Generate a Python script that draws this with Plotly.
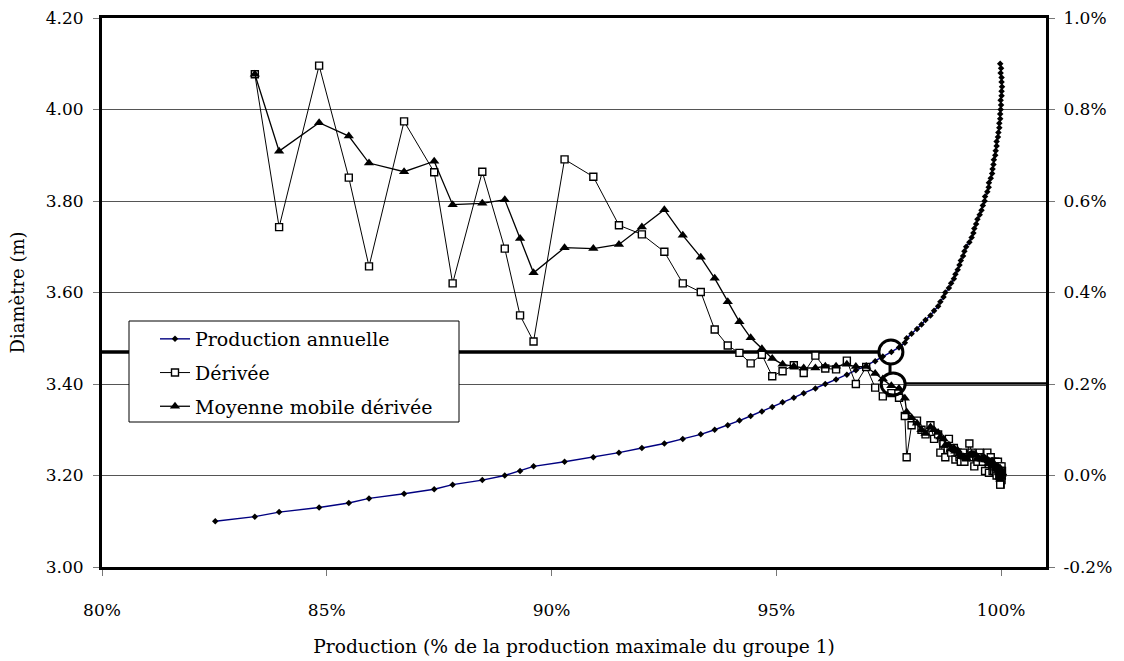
import plotly.graph_objects as go

# ---------------- data ----------------
diametre = [3.10, 3.11, 3.12, 3.13, 3.14, 3.15, 3.16, 3.17, 3.18, 3.19,
            3.20, 3.21, 3.22, 3.23, 3.24, 3.25, 3.26, 3.27, 3.28, 3.29,
            3.30, 3.31, 3.32, 3.33, 3.34, 3.35, 3.36, 3.37, 3.38, 3.39,
            3.40, 3.41, 3.42, 3.43, 3.44, 3.45, 3.46, 3.47, 3.48, 3.49,
            3.50, 3.51, 3.52, 3.53, 3.54, 3.55, 3.56, 3.57, 3.58, 3.59,
            3.60, 3.61, 3.62, 3.63, 3.64, 3.65, 3.66, 3.67, 3.68, 3.69,
            3.70, 3.71, 3.72, 3.73, 3.74, 3.75, 3.76, 3.77, 3.78, 3.79,
            3.80, 3.81, 3.82, 3.83, 3.84, 3.85, 3.86, 3.87, 3.88, 3.89,
            3.90, 3.91, 3.92, 3.93, 3.94, 3.95, 3.96, 3.97, 3.98, 3.99,
            4.00, 4.01, 4.02, 4.03, 4.04, 4.05, 4.06, 4.07, 4.08, 4.09,
            4.10]

# production (% of max production of group 1) for each diameter
production = [82.52, 83.40, 83.94, 84.83, 85.49, 85.94, 86.72, 87.39, 87.80, 88.46,
              88.96, 89.30, 89.60, 90.29, 90.93, 91.50, 92.01, 92.51, 92.92, 93.32,
              93.63, 93.92, 94.18, 94.43, 94.68, 94.91, 95.14, 95.39, 95.61, 95.87,
              96.09, 96.33, 96.57, 96.77, 97.00, 97.20, 97.37, 97.56, 97.73, 97.86,
              97.90, 98.01, 98.13, 98.23, 98.32, 98.43, 98.51, 98.60, 98.65, 98.72,
              98.76, 98.84, 98.89, 98.95, 98.985, 99.035, 99.075, 99.105, 99.155, 99.185,
              99.225, 99.295, 99.345, 99.385, 99.405, 99.445, 99.475, 99.525, 99.565, 99.595,
              99.635, 99.645, 99.695, 99.725, 99.731, 99.771, 99.801, 99.811, 99.831, 99.841,
              99.871, 99.881, 99.901, 99.901, 99.931, 99.941, 99.961, 99.961, 99.981, 99.981,
              99.991, 100.001, 99.991, 100.011, 100.011, 100.021, 100.011, 100.011, 99.991, 100.001,
              99.981]

# derivative (%), for diameters 3.11 .. 4.10
derivee = [0.877, 0.543, 0.896, 0.651, 0.457, 0.774, 0.663, 0.420, 0.664,
           0.496, 0.350, 0.293, 0.691, 0.653, 0.547, 0.527, 0.489, 0.420, 0.401,
           0.319, 0.284, 0.268, 0.245, 0.264, 0.217, 0.228, 0.241, 0.224, 0.262,
           0.234, 0.232, 0.251, 0.200, 0.237, 0.192, 0.173, 0.180, 0.170, 0.130,
           0.040, 0.110, 0.120, 0.100, 0.090, 0.110, 0.080, 0.090, 0.050, 0.070,
           0.040, 0.080, 0.050, 0.060, 0.035, 0.050, 0.040, 0.030, 0.050, 0.030,
           0.040, 0.070, 0.050, 0.040, 0.020, 0.040, 0.030, 0.050, 0.040, 0.030,
           0.040, 0.010, 0.050, 0.030, 0.006, 0.040, 0.030, 0.010, 0.020, 0.010,
           0.030, 0.010, 0.020, 0.000, 0.030, 0.010, 0.020, 0.000, 0.020, 0.000,
           0.010, 0.010, -0.010, 0.020, 0.000, 0.010, -0.010, 0.000, -0.020, 0.010,
           -0.020]

# moving average of the derivative (%), for diameters 3.11 .. 4.10
moyenne_mobile = [0.877, 0.709, 0.771, 0.742, 0.683, 0.664, 0.687, 0.592, 0.595,
                  0.603, 0.518, 0.443, 0.498, 0.496, 0.505, 0.543, 0.581, 0.525, 0.477,
                  0.431, 0.380, 0.336, 0.301, 0.277, 0.256, 0.243, 0.239, 0.235, 0.235,
                  0.239, 0.239, 0.243, 0.238, 0.238, 0.223, 0.211, 0.196, 0.190, 0.169,
                  0.139, 0.126, 0.114, 0.100, 0.092, 0.106, 0.100, 0.094, 0.084, 0.080,
                  0.066, 0.066, 0.058, 0.060, 0.053, 0.055, 0.047, 0.043, 0.041, 0.040,
                  0.038, 0.044, 0.048, 0.046, 0.044, 0.044, 0.036, 0.036, 0.036, 0.038,
                  0.038, 0.034, 0.034, 0.032, 0.027, 0.027, 0.031, 0.023, 0.021, 0.022,
                  0.020, 0.016, 0.018, 0.014, 0.018, 0.014, 0.016, 0.012, 0.016, 0.010,
                  0.010, 0.008, 0.006, 0.006, 0.006, 0.006, 0.002, 0.004, -0.004, -0.002,
                  -0.008]

# axis ticks
x_ticks = [80, 85, 90, 95, 100]
x_ticklabels = ["80%", "85%", "90%", "95%", "100%"]
y_ticks = [3.00, 3.20, 3.40, 3.60, 3.80, 4.00, 4.20]
y_ticklabels = ["3.00", "3.20", "3.40", "3.60", "3.80", "4.00", "4.20"]
y2_ticks = [-0.2, 0.0, 0.2, 0.4, 0.6, 0.8, 1.0]
y2_ticklabels = ["-0.2%", "0.0%", "0.2%", "0.4%", "0.6%", "0.8%", "1.0%"]

# threshold read on the chart
seuil_diametre = 3.47
seuil_derivee = 0.20
seuil_production = 97.55

x_deriv = production[1:]

FONT = "DejaVu Serif"

# plot area geometry (pixels)
L, R, T, B = 102, 78, 18, 94
W, H = 1124, 661
PW, PH = W - L - R, H - T - B
X_RANGE = [80, 101]
px_per_pct = PW / (X_RANGE[1] - X_RANGE[0])
RAYON = 12  # circle radius in px

fig = go.Figure()

fig.add_trace(go.Scatter(
    x=production, y=diametre, name="Production annuelle",
    mode="lines+markers", legendgroup="a",
    line=dict(color="#000080", width=1.4),
    marker=dict(symbol="diamond", size=5, color="black"),
))
fig.add_trace(go.Scatter(
    x=x_deriv, y=derivee, name="Dérivée", yaxis="y2",
    mode="lines+markers", legendgroup="b",
    line=dict(color="black", width=1),
    marker=dict(symbol="square", size=7, color="white",
                line=dict(color="black", width=1.4)),
))
fig.add_trace(go.Scatter(
    x=x_deriv, y=moyenne_mobile, name="Moyenne mobile dérivée", yaxis="y2",
    mode="lines+markers", legendgroup="c",
    line=dict(color="black", width=1.3),
    marker=dict(symbol="triangle-up", size=9, color="black"),
))

# legend box (white background, covers lines behind it)
shapes = [
    dict(type="rect", xref="paper", yref="paper",
         x0=(129 - L) / PW, x1=(459 - L) / PW,
         y0=(H - B - 422) / PH, y1=(H - B - 321) / PH,
         fillcolor="white", line=dict(color="black", width=1), layer="above"),
]
# thick threshold lines and circles
shapes += [
    dict(type="line", xref="x", yref="y", x0=X_RANGE[0],
         x1=seuil_production - RAYON / px_per_pct,
         y0=seuil_diametre, y1=seuil_diametre,
         line=dict(color="black", width=3.5), layer="below"),
    dict(type="line", xref="x", yref="y2",
         x0=seuil_production + 0.05 + RAYON / px_per_pct, x1=X_RANGE[1],
         y0=seuil_derivee, y1=seuil_derivee,
         line=dict(color="black", width=3.5), layer="below"),
    dict(type="circle", xref="x", yref="y", xsizemode="pixel", ysizemode="pixel",
         xanchor=seuil_production, yanchor=seuil_diametre,
         x0=-RAYON, x1=RAYON, y0=-RAYON, y1=RAYON,
         fillcolor="rgba(0,0,0,0)", line=dict(color="black", width=3)),
    dict(type="circle", xref="x", yref="y2", xsizemode="pixel", ysizemode="pixel",
         xanchor=seuil_production + 0.05, yanchor=seuil_derivee,
         x0=-RAYON, x1=RAYON, y0=-11, y1=11,
         fillcolor="rgba(0,0,0,0)", line=dict(color="black", width=3)),
    dict(type="line", xref="x", yref="y", ysizemode="pixel",
         yanchor=seuil_diametre, x0=seuil_production - 0.02, x1=seuil_production - 0.02,
         y0=-RAYON, y1=-22, line=dict(color="black", width=3)),
]

fig.update_layout(
    width=W, height=H,
    margin=dict(l=L, r=R, t=T, b=B, autoexpand=False),
    paper_bgcolor="white", plot_bgcolor="white",
    font=dict(family=FONT, size=17, color="black"),
    showlegend=True,
    legend=dict(x=(155 - L) / PW, y=(H - B - 320) / PH, xanchor="left", yanchor="top",
                bgcolor="rgba(0,0,0,0)", borderwidth=0,
                font=dict(family=FONT, size=19, color="black"),
                tracegroupgap=6, itemwidth=30),
    xaxis=dict(range=X_RANGE, tickvals=x_ticks, ticktext=x_ticklabels, automargin=False,
               showgrid=False, zeroline=False,
               showline=True, linecolor="black", linewidth=3, mirror=True,
               ticks="outside", ticklen=6, tickcolor="#777", tickwidth=1,
               ticklabelstandoff=20,
               title=dict(text="Production (% de la production maximale du groupe 1)",
                          font=dict(size=18.7), standoff=21)),
    yaxis=dict(range=[3.0, 4.2], tickvals=y_ticks, ticktext=y_ticklabels, automargin=False,
               showgrid=True, gridcolor="#555", gridwidth=1, zeroline=False,
               showline=True, linecolor="black", linewidth=3,
               ticks="outside", ticklen=6, tickcolor="#777", tickwidth=1,
               ticklabelstandoff=6,
               title=dict(text="Diamètre (m)", font=dict(size=18), standoff=17)),
    yaxis2=dict(range=[-0.2, 1.0], tickvals=y2_ticks, ticktext=y2_ticklabels,
                automargin=False,
                overlaying="y", side="right", showgrid=False, zeroline=False,
                showline=True, linecolor="black", linewidth=3,
                ticks="outside", ticklen=6, tickcolor="#777", tickwidth=1,
                ticklabelstandoff=5),
    shapes=shapes,
)

fig.write_html("out.html", config={"displayModeBar": False},
               post_script="document.body.style.margin='0';document.body.style.overflow='hidden';")
